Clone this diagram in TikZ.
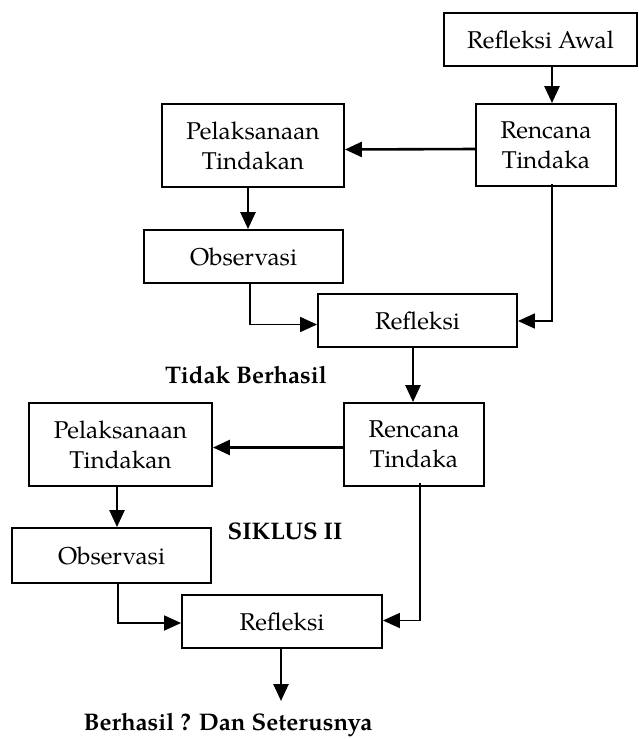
\documentclass[tikz,border=0pt]{standalone}
\usepackage{fontspec}
\setmainfont{TeX Gyre Pagella}
\usetikzlibrary{arrows.meta}
\begin{document}
\begin{tikzpicture}[x=1pt,y=-1pt,
  box/.style={draw=black,line width=1.9pt,fill=white,inner sep=0pt,align=center,
    font=\fontsize{24.3}{30}\selectfont},
  arr/.style={line width=2.6pt,-{Triangle[length=17pt,width=15pt]}},
  thin/.style={line width=1.8pt,-{Triangle[length=17pt,width=15pt]}},
  lbl/.style={font=\fontsize{24}{28}\selectfont\bfseries,inner sep=0pt}]
\useasboundingbox[fill=white] (0,0) rectangle (639,739);
\node[box,minimum width=193pt,minimum height=53pt] (ra) at (540.5,39.5) {Refleksi Awal};
\node[box,minimum width=140pt,minimum height=82pt] (rt1) at (546,145) {Rencana\\Tindaka};
\node[box,minimum width=182pt,minimum height=83pt] (pt1) at (253,145.5) {Pelaksanaan\\Tindakan};
\node[box,minimum width=199pt,minimum height=53pt] (ob1) at (243.5,256.5) {Observasi};
\node[box,minimum width=199pt,minimum height=53pt] (rf1) at (417.5,320.5) {Refleksi};
\node[box,minimum width=140pt,minimum height=83pt] (rt2) at (414,444.5) {Rencana\\Tindaka};
\node[box,minimum width=183pt,minimum height=83pt] (pt2) at (120.5,444.5) {Pelaksanaan\\Tindakan};
\node[box,minimum width=199pt,minimum height=55pt] (ob2) at (111.5,555.5) {Observasi};
\node[box,minimum width=200pt,minimum height=53pt] (rf2) at (282,621.5) {Refleksi};
\node[lbl] (tb) at (246,375) {Tidak Berhasil};
\node[lbl] (sk) at (285,531) {SIKLUS II};
\node[lbl] (bh) at (228,725) {Berhasil ? Dan Seterusnya};
\coordinate (xa) at (552,0);
\coordinate (xb) at (248,0);
\coordinate (xc) at (250,0);
\coordinate (xd) at (413,0);
\coordinate (xe) at (420,0);
\coordinate (xf) at (117,0);
\coordinate (xg) at (118,0);
\coordinate (end) at (281,701);
\draw[arr] (ra.south -| xa) -- (rt1.north -| xa);
\draw[arr] ([yshift=-4pt]rt1.west) -- ([yshift=-4pt]pt1.east);
\draw[arr] (pt1.south -| xb) -- (ob1.north -| xb);
\draw[thin] (ob1.south -| xc) |- ([yshift=-4pt]rf1.west);
\draw[thin] ([yshift=3pt]rt1.south -| xa) |- ([yshift=-0.5pt]rf1.east);
\draw[arr] (rf1.south -| xd) -- (rt2.north -| xd);
\draw[arr] ([yshift=-3pt]rt2.west) -- ([yshift=-3pt]pt2.east);
\draw[arr] (pt2.south -| xf) -- (ob2.north -| xf);
\draw[thin] (ob2.south -| xg) |- ([yshift=-1.5pt]rf2.west);
\draw[thin] ([yshift=4pt]rt2.south -| xe) |- ([yshift=1pt]rf2.east);
\draw[arr] (rf2.south -| end) -- (end);
\end{tikzpicture}
\end{document}
